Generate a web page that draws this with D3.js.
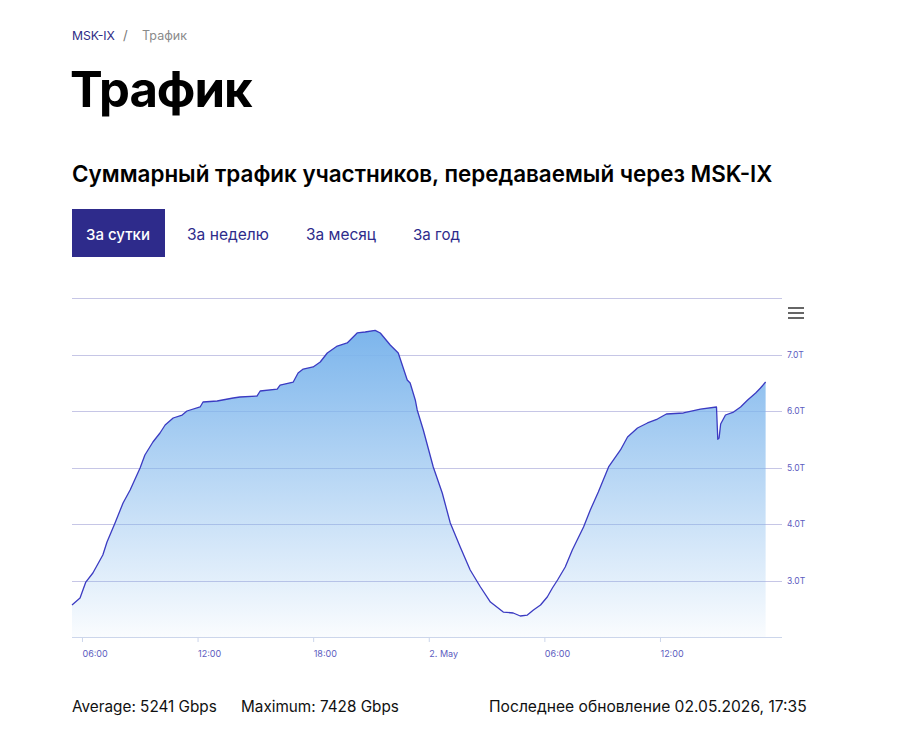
<!DOCTYPE html>
<html>
<head>
<meta charset="utf-8">
<script src="https://cdn.jsdelivr.net/npm/d3@7"></script>
<style>
html,body{margin:0;padding:0;background:#fff;}
svg{display:block;font-family:Inter,"Noto Sans",sans-serif;}
</style>
</head>
<body>
<svg id="page" width="898" height="737"></svg>
<script>
// ---------- DATA ----------
const times = [
"2026-05-01T05:29","2026-05-01T05:54","2026-05-01T06:12","2026-05-01T06:34","2026-05-01T07:05",
"2026-05-01T07:18","2026-05-01T07:43","2026-05-01T08:08","2026-05-01T08:30","2026-05-01T09:01",
"2026-05-01T09:16","2026-05-01T09:41","2026-05-01T10:03","2026-05-01T10:19","2026-05-01T10:44",
"2026-05-01T11:12","2026-05-01T11:27","2026-05-01T12:08","2026-05-01T12:17","2026-05-01T13:01",
"2026-05-01T13:51","2026-05-01T14:12","2026-05-01T15:05","2026-05-01T15:15","2026-05-01T16:08",
"2026-05-01T16:17","2026-05-01T16:58","2026-05-01T17:13","2026-05-01T17:29","2026-05-01T18:00",
"2026-05-01T18:22","2026-05-01T18:44","2026-05-01T19:15","2026-05-01T19:46","2026-05-01T20:17",
"2026-05-01T20:42","2026-05-01T21:13","2026-05-01T21:29","2026-05-01T22:00","2026-05-01T22:25",
"2026-05-01T22:53","2026-05-01T23:02","2026-05-01T23:18","2026-05-01T23:24","2026-05-01T23:43",
"2026-05-02T00:14","2026-05-02T00:42","2026-05-02T01:07","2026-05-02T01:38","2026-05-02T02:09",
"2026-05-02T02:41","2026-05-02T03:12","2026-05-02T03:52","2026-05-02T04:23","2026-05-02T04:45",
"2026-05-02T05:07","2026-05-02T05:26","2026-05-02T05:48","2026-05-02T06:09","2026-05-02T06:25",
"2026-05-02T06:41","2026-05-02T07:05","2026-05-02T07:27","2026-05-02T08:02","2026-05-02T08:23",
"2026-05-02T08:48","2026-05-02T09:20","2026-05-02T09:57","2026-05-02T10:19","2026-05-02T10:50",
"2026-05-02T11:21","2026-05-02T11:52","2026-05-02T12:20","2026-05-02T13:13","2026-05-02T14:06",
"2026-05-02T14:56","2026-05-02T15:00","2026-05-02T15:04","2026-05-02T15:09","2026-05-02T15:24",
"2026-05-02T15:49","2026-05-02T16:11","2026-05-02T16:33","2026-05-02T16:58","2026-05-02T17:13",
"2026-05-02T17:29"];
const traffic = [
2566,2690,2973,3133,3451,
3681,4018,4372,4602,4991,
5221,5451,5611,5752,5876,
5929,6000,6071,6159,6177,
6230,6248,6265,6354,6389,
6460,6513,6673,6743,6779,
6867,7027,7150,7204,7381,
7398,7428,7381,7168,7027,
6549,6496,6195,6018,5664,
5009,4549,4018,3593,3186,
2885,2619,2442,2425,2372,
2389,2478,2566,2708,2867,
3009,3239,3540,3947,4248,
4566,5009,5310,5540,5699,
5788,5858,5947,5965,6035,
6071,5500,5520,5770,5929,
5982,6071,6195,6319,6407,
6513];
const yTickValues = [3000,4000,5000,6000,7000];
const yGridValues = [2000,3000,4000,5000,6000,7000,8000];
const xTickTimes = ["2026-05-01T06:00","2026-05-01T12:00","2026-05-01T18:00","2026-05-02T00:00","2026-05-02T06:00","2026-05-02T12:00"];
const xTickLabels = ["06:00","12:00","18:00","2. May","06:00","12:00"];
const tabs = ["За сутки","За неделю","За месяц","За год"];
const breadcrumb = ["MSK-IX","/","Трафик"];
const pageTitle = "Трафик";
const chartTitle = "Суммарный трафик участников, передаваемый через MSK-IX";
const averageGbps = 5241;
const maximumGbps = 7428;
const updated = "02.05.2026, 17:35";

// ---------- DRAW ----------
const parse = d3.timeParse("%Y-%m-%dT%H:%M");
const data = times.map((t,i)=>({t:parse(t), v:traffic[i]}));
const svg = d3.select("#page");

function fit(sel, w){
  const node = sel.node();
  const cur = parseFloat(sel.attr("font-size"));
  const len = node.getComputedTextLength();
  if(len>0) sel.attr("font-size", cur*w/len);
  return sel;
}

// breadcrumb
fit(svg.append("text").attr("x",72).attr("y",40).attr("font-size",13).attr("fill","#2e2c86").text(breadcrumb[0]),43);
svg.append("text").attr("x",123).attr("y",40).attr("font-size",13).attr("fill","#777").text(breadcrumb[1]);
fit(svg.append("text").attr("x",142).attr("y",40).attr("font-size",13).attr("fill","#8a8a8a").text(breadcrumb[2]),45);

// page title
fit(svg.append("text").attr("x",70).attr("y",107).attr("font-size",52).attr("font-weight",650).attr("fill","#000").attr("letter-spacing","-1px").text(pageTitle),182);

// chart title
fit(svg.append("text").attr("x",72).attr("y",182).attr("font-size",22).attr("font-weight",600).attr("fill","#000").text(chartTitle),701);

// tabs
const tabX = [86,187,306,413];
const tabW = [64,82,70,47];
svg.append("rect").attr("x",72).attr("y",209).attr("width",93).attr("height",48).attr("fill","#2e2b8b");
tabs.forEach((t,i)=>{
  fit(svg.append("text").attr("x",tabX[i]).attr("y",240).attr("font-size",16).attr("font-weight",i===0?500:400)
    .attr("fill", i===0?"#fff":"#2e2b8b").text(t), tabW[i]);
});

// chart scales
const x = d3.scaleTime().domain([parse("2026-05-01T05:29"), parse("2026-05-02T18:20")]).range([72,782]);
const y = d3.scaleLinear().domain([2000,8000]).range([637,298]);

// gradient
const defs = svg.append("defs");
const grad = defs.append("linearGradient").attr("id","areaGrad").attr("gradientUnits","userSpaceOnUse")
  .attr("x1",0).attr("x2",0).attr("y1",y(d3.max(traffic))).attr("y2",637);
grad.append("stop").attr("offset","0%").attr("stop-color","#7cb5ec").attr("stop-opacity",1);
grad.append("stop").attr("offset","100%").attr("stop-color","#7cb5ec").attr("stop-opacity",0.04);

// grid
svg.append("g").selectAll("line").data(yGridValues.filter(v=>v>2000)).join("line")
  .attr("x1",72).attr("x2",782).attr("y1",d=>Math.round(y(d))+0.5).attr("y2",d=>Math.round(y(d))+0.5)
  .attr("stroke","#c6c6e6").attr("stroke-width",1);

// area + line
const area = d3.area().x(d=>x(d.t)).y0(y(2000)).y1(d=>y(d.v));
const line = d3.line().x(d=>x(d.t)).y(d=>y(d.v));
svg.append("path").datum(data).attr("d",area).attr("fill","url(#areaGrad)");
svg.append("path").datum(data).attr("d",line).attr("fill","none").attr("stroke","#3b3bc2").attr("stroke-width",1.3).attr("stroke-linejoin","round");

// x axis
const xAxis = d3.axisBottom(x).tickValues(xTickTimes.map(parse)).tickFormat((d,i)=>xTickLabels[i]).tickSize(5).tickSizeOuter(0);
const gx = svg.append("g").attr("transform","translate(0,637)").call(xAxis);
gx.select(".domain").attr("stroke","#ccd6eb").attr("d","M72,0.5H782");
gx.selectAll(".tick line").attr("stroke","#ccd6eb");
gx.selectAll(".tick text").attr("text-anchor","start").attr("dx",0).attr("y",14)
  .attr("font-size",9).attr("fill","#5c5cc0").attr("font-family","Inter, sans-serif");

// y axis labels
const yAxis = d3.axisRight(y).tickValues(yTickValues).tickFormat(d=>(d/1000).toFixed(1)+"T").tickSize(0);
const gy = svg.append("g").attr("transform","translate(787,0)").call(yAxis);
gy.select(".domain").remove();
gy.selectAll(".tick text").attr("x",0).attr("font-size",8.5).attr("fill","#5c5cc0").attr("font-family","Inter, sans-serif");

// menu icon
[308,313,318].forEach(yy=>{
  svg.append("line").attr("x1",788).attr("x2",804).attr("y1",yy).attr("y2",yy)
    .attr("stroke","#666").attr("stroke-width",2);
});

// footer
fit(svg.append("text").attr("x",72).attr("y",712).attr("font-size",16).attr("fill","#111").text(`Average: ${averageGbps} Gbps`),145);
fit(svg.append("text").attr("x",241).attr("y",712).attr("font-size",16).attr("fill","#111").text(`Maximum: ${maximumGbps} Gbps`),158);
fit(svg.append("text").attr("x",489).attr("y",712).attr("font-size",16).attr("fill","#111").text(`Последнее обновление ${updated}`),318);
</script>
</body>
</html>
